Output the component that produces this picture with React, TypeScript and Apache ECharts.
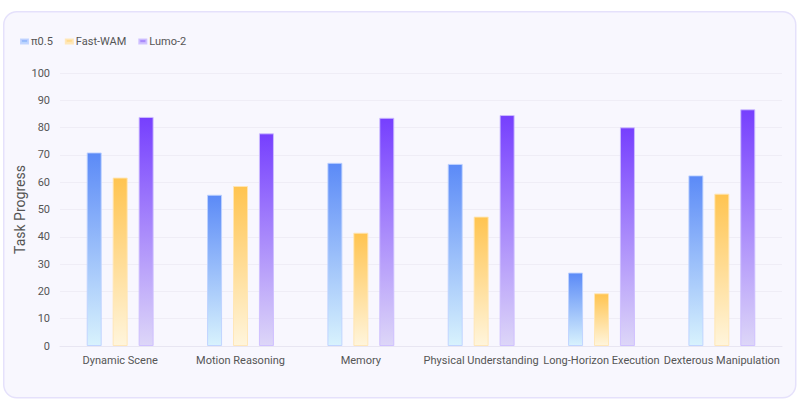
import React, { useEffect, useRef } from "react";
import * as echarts from "echarts";

const categories = [
  "Dynamic Scene",
  "Motion Reasoning",
  "Memory",
  "Physical Understanding",
  "Long-Horizon Execution",
  "Dexterous Manipulation",
];
const seriesNames = ["π0.5", "Fast-WAM", "Lumo-2"];
const pi05 = [70.9, 55.4, 67.1, 66.7, 26.9, 62.5];
const fastWam = [61.7, 58.6, 41.5, 47.4, 19.3, 55.8];
const lumo2 = [83.9, 77.9, 83.6, 84.6, 80.1, 86.7];
const yTicks = { min: 0, max: 100, interval: 10 };

const grad = (top: string, bottom: string) =>
  new echarts.graphic.LinearGradient(0, 0, 0, 1, [
    { offset: 0, color: top },
    { offset: 1, color: bottom },
  ]);

const palette = [
  { top: "#5b8af7", bottom: "#d8f2fd", border: "rgba(190,210,255,0.9)" },
  { top: "#ffc450", bottom: "#fff5dc", border: "rgba(255,230,180,0.9)" },
  { top: "#763ffe", bottom: "#ddd6f8", border: "rgba(205,190,255,0.9)" },
];

export default function App() {
  const ref = useRef<HTMLDivElement>(null);
  useEffect(() => {
    document.body.style.margin = "0";
    const chart = echarts.init(ref.current!, undefined, { renderer: "svg" });
    const font = "Roboto, 'Noto Sans', sans-serif";
    const data = [pi05, fastWam, lumo2];
    chart.setOption({
      animation: false,
      textStyle: { fontFamily: font },
      graphic: [
        {
          type: "rect",
          left: 3,
          top: 11,
          shape: { width: 792, height: 386, r: 13 },
          style: { fill: "#f8f7fe", stroke: "#e5e1fb", lineWidth: 1.5 },
          z: -10,
          silent: true,
        },
      ],
      legend: {
        left: 15,
        top: 31,
        itemWidth: 7,
        itemHeight: 4,
        itemGap: 12,
        icon: "rect",
        textStyle: { fontSize: 11, color: "#555", fontFamily: font, padding: [0, 0, 0, -2] },
        data: seriesNames,
      },
      grid: { left: 60, right: 16, top: 73, bottom: 64, containLabel: false },
      xAxis: {
        type: "category",
        data: categories,
        axisLine: { lineStyle: { color: "#e8e6f2", width: 1 } },
        axisTick: { show: false },
        axisLabel: { color: "#555", fontSize: 11, margin: 9, interval: 0 },
      },
      yAxis: {
        type: "value",
        min: yTicks.min,
        max: yTicks.max,
        interval: yTicks.interval,
        name: "Task Progress",
        nameLocation: "middle",
        nameGap: 33,
        nameMoveOverlap: false,
        nameTextStyle: { fontSize: 14, color: "#555" },
        axisLine: { show: false },
        axisTick: { show: false },
        axisLabel: { color: "#555", fontSize: 11, margin: 10 },
        splitLine: { lineStyle: { color: "#efedf6", width: 1 } },
      },
      series: seriesNames.map((name, i) => ({
        name,
        type: "bar",
        data: data[i],
        barWidth: 15,
        barGap: "73%",
        itemStyle: {
          color: grad(palette[i].top, palette[i].bottom),
          borderColor: palette[i].border,
          borderWidth: 1,
        },
      })),
    });
    return () => chart.dispose();
  }, []);
  return <div ref={ref} style={{ width: 798, height: 410 }} />;
}
